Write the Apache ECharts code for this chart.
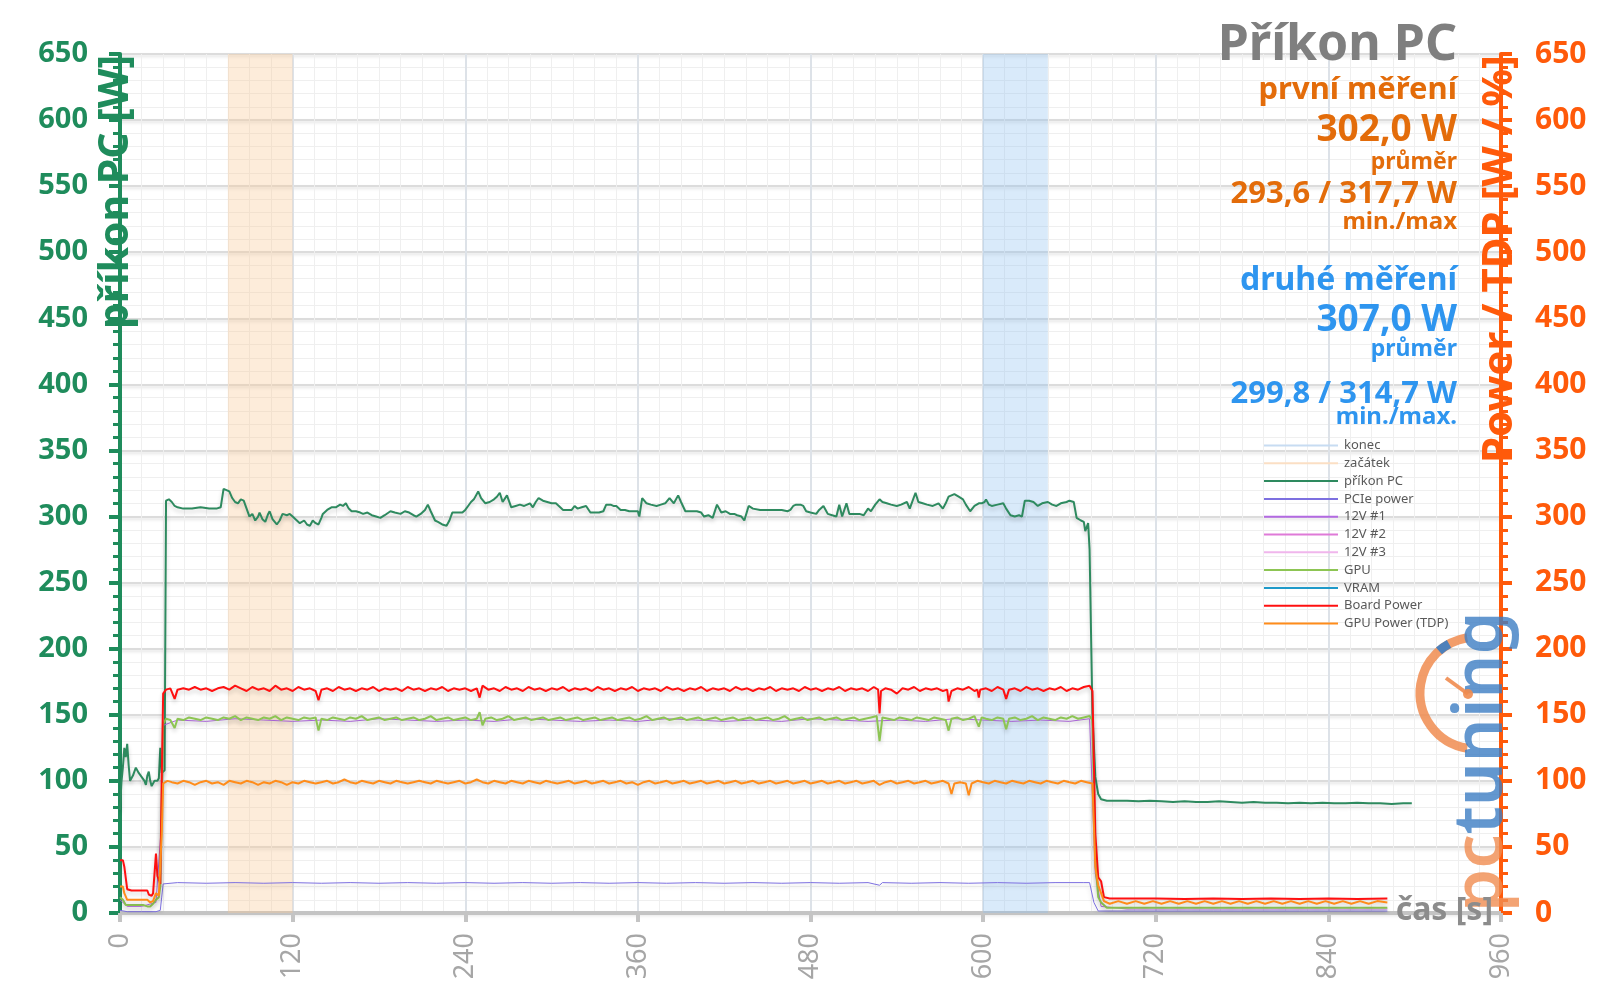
<!DOCTYPE html>
<html><head><meta charset="utf-8">
<script src="https://cdn.jsdelivr.net/npm/echarts@6/dist/echarts.min.js"></script>
<style>html,body{margin:0;padding:0;background:#fff}#c{width:1600px;height:1008px}</style>
</head><body><div id="c"></div>
<script>
// ---- data ----
var xTicks = [0,120,240,360,480,600,720,840,960];
var bandStart = [75,120];   // "začátek"
var bandEnd = [600,645];    // "konec"

var pcPower = [[0,78],[1,99],[2,110],[3,125],[4,118],[5,128],[6,112],[7,100],[9,104],[11,110],[13,106],[15,103],[17,100],[18,97],[19,104],[20,107],[21,100],[22,96],[24,100],[26,100],[27,102],[28,125],[29,106],[31,108],[32,312],[34,313],[36,311],[38,308],[40,307],[44,306],[50,306],[56,307],[62,306],[67,306],[70,307],[72,321],[74,320],[76,319],[78,314],[80,311],[82,310],[84,313],[86,312],[88,306],[90,300],[92,302],[94,297],[96,300],[97,303],[99,298],[101,296],[103,302],[104,304],[106,298],[109,294],[111,297],[113,302],[116,301],[118,302],[120,300],[122,298],[125,295],[128,297],[130,294],[132,293],[134,297],[136,295],[138,294],[140,299],[141,302],[144,305],[147,307],[150,307],[153,309],[155,308],[157,310],[159,306],[161,304],[164,304],[167,303],[169,302],[172,303],[175,301],[178,300],[181,299],[184,301],[188,304],[191,303],[195,302],[198,304],[201,303],[204,301],[206,300],[209,302],[212,305],[214,309],[216,304],[219,297],[221,296],[224,294],[227,293],[229,297],[231,303],[234,303],[238,303],[240,305],[242,308],[244,311],[246,313],[249,319],[251,314],[254,310],[257,311],[260,313],[262,315],[264,318],[266,311],[269,316],[271,310],[272,307],[275,308],[278,309],[281,308],[285,310],[287,307],[289,311],[291,314],[294,312],[297,311],[300,310],[303,310],[306,307],[308,305],[311,305],[314,305],[316,308],[318,306],[321,307],[322,306],[324,308],[327,303],[330,303],[333,303],[336,304],[338,309],[341,309],[343,308],[345,308],[348,305],[351,305],[354,304],[358,304],[360,304],[361,300],[363,314],[366,310],[369,309],[373,308],[376,309],[379,310],[382,314],[385,310],[388,316],[390,311],[393,304],[396,304],[401,304],[404,303],[406,300],[409,301],[412,299],[415,309],[418,303],[421,304],[424,302],[427,302],[429,301],[432,300],[434,297],[437,308],[440,306],[445,305],[450,305],[455,305],[460,305],[464,304],[466,305],[468,308],[470,309],[473,309],[475,308],[477,304],[480,303],[484,302],[486,305],[489,308],[491,304],[492,302],[495,301],[498,300],[500,309],[502,300],[505,310],[507,302],[510,302],[514,302],[517,301],[520,306],[522,304],[525,309],[528,313],[530,311],[533,310],[536,309],[540,308],[543,309],[547,311],[549,306],[553,318],[555,311],[558,310],[561,309],[565,308],[569,310],[572,306],[574,310],[576,315],[580,317],[583,315],[586,313],[588,309],[591,304],[594,308],[597,310],[599,310],[601,311],[602,313],[604,309],[606,308],[610,309],[614,310],[616,306],[619,301],[622,300],[625,301],[627,300],[629,312],[632,312],[635,311],[638,308],[641,310],[645,311],[648,309],[651,308],[654,310],[658,311],[660,312],[663,311],[665,299],[668,297],[670,296],[671,289],[673,295],[674,275],[676,150],[678,103],[680,90],[682,86],[686,85],[692,85],[700,85],[708,84.5],[716,85],[724,84.5],[732,84],[740,84.5],[748,84],[756,84],[764,84.5],[772,84],[780,83.5],[788,84],[796,83.5],[804,83.5],[812,83],[820,83.5],[828,83],[836,83.5],[844,83],[852,83],[860,83.5],[868,83],[876,83],[884,82.5],[892,83],[898,83]];

var pciePower = [[0,2],[5,1],[15,1],[25,1],[28,2],[29,12],[30,22],[40,23],[60,22.5],[80,23],[100,22.5],[120,23],[140,22.5],[160,23],[180,22.5],[200,23],[220,22.5],[240,23],[260,22.5],[280,23],[300,22.5],[320,23],[340,22.5],[360,23],[380,22.5],[400,23],[420,22.5],[440,23],[460,22.5],[480,23],[500,22.5],[520,23],[528,21],[530,23],[550,22.5],[570,23],[590,22.5],[610,23],[630,22.5],[650,23],[670,23],[674,23],[677,8],[680,1.5],[700,1.5],[760,1.5],[820,1.5],[881,1.5]];

var v12a = [[0,10],[5,5],[15,5],[25,8],[29,70],[30,142],[40,146],[60,145],[80,147],[100,146],[120,145],[140,146],[160,145],[180,147],[200,146],[220,145],[240,146],[260,145],[280,147],[300,146],[320,145],[340,146],[360,145],[380,147],[400,146],[420,145],[440,146],[460,145],[480,147],[500,146],[520,145],[540,146],[560,145],[580,147],[600,146],[620,145],[640,146],[660,145],[674,147],[678,30],[682,5],[700,3],[800,3],[881,3]];
var v12b = [];
var v12c = [];
var vram = [];

var gpuPower = [[0,12],[2,10],[4,6],[8,6],[12,6],[16,6],[19,5],[21,5],[23,7],[25,10],[27,12],[28,20],[29,80],[30,143],[32,147],[35,146],[38,140],[40,147],[44,146],[48,148],[52,147],[56,146],[60,148],[64,147],[68,146],[72,148],[76,147],[80,149],[84,146],[88,148],[92,147],[96,146],[100,148],[104,147],[108,149],[112,146],[116,148],[120,147],[124,146],[128,148],[132,147],[136,148],[138,138],[140,147],[144,146],[148,148],[152,147],[156,146],[160,148],[164,147],[168,149],[172,146],[176,147],[180,148],[184,146],[188,147],[192,148],[196,146],[200,147],[204,148],[208,146],[212,147],[216,149],[220,146],[224,147],[228,148],[232,146],[236,147],[240,148],[244,146],[248,147],[250,152],[252,142],[254,147],[258,148],[262,146],[266,147],[270,149],[274,146],[278,147],[282,148],[286,146],[290,147],[294,148],[298,146],[302,147],[306,148],[310,146],[314,147],[318,148],[322,146],[326,147],[330,148],[334,146],[338,147],[342,148],[346,146],[350,147],[354,148],[358,146],[362,147],[366,149],[370,146],[374,147],[378,148],[382,146],[386,147],[390,148],[394,146],[398,147],[402,148],[406,146],[410,147],[414,148],[418,146],[422,147],[426,148],[430,146],[434,147],[438,148],[442,146],[446,147],[450,148],[454,146],[458,147],[462,149],[466,146],[470,147],[474,148],[478,146],[482,147],[486,148],[490,146],[494,147],[498,148],[502,146],[506,147],[510,148],[514,146],[518,147],[522,148],[526,149],[528,130],[530,148],[534,147],[538,146],[542,148],[546,147],[550,146],[554,148],[558,147],[562,146],[566,148],[570,147],[574,146],[576,138],[578,147],[582,148],[586,146],[590,147],[594,149],[597,141],[599,148],[602,147],[606,146],[610,148],[614,147],[616,139],[618,147],[622,148],[626,146],[630,147],[634,149],[638,146],[642,148],[646,147],[650,146],[654,148],[658,147],[662,149],[666,147],[670,148],[674,149],[676,146],[678,40],[680,12],[682,8],[686,4],[700,4],[740,4],[780,4],[820,4],[860,4],[881,4]];

var boardPower = [[0,40],[2,40],[3,35],[5,18],[8,17],[12,17],[16,17],[19,17],[20,14],[22,13],[23,15],[24,30],[25,45],[26,28],[28,22],[29,100],[30,166],[32,169],[35,170],[38,162],[40,169],[44,170],[48,169],[52,171],[56,169],[60,170],[64,168],[68,170],[72,171],[76,169],[80,172],[84,170],[88,168],[92,171],[96,169],[100,170],[104,168],[108,172],[112,169],[116,170],[120,168],[124,171],[128,169],[132,170],[136,168],[138,161],[140,169],[144,170],[148,168],[152,171],[156,169],[160,170],[164,168],[168,170],[172,169],[176,171],[180,168],[184,170],[188,169],[192,170],[196,168],[200,171],[204,169],[208,170],[212,168],[216,170],[220,169],[224,171],[228,168],[232,170],[236,169],[240,170],[244,168],[248,170],[250,163],[252,172],[256,169],[260,170],[264,168],[268,171],[272,169],[276,170],[280,168],[284,171],[288,169],[292,170],[296,168],[300,170],[304,169],[308,171],[312,168],[316,170],[320,169],[324,170],[328,168],[332,171],[336,169],[340,170],[344,168],[348,170],[352,169],[356,171],[360,168],[364,170],[368,169],[372,170],[376,168],[380,171],[384,169],[388,170],[392,168],[396,170],[400,169],[404,171],[408,168],[412,170],[416,169],[420,170],[424,168],[428,171],[432,169],[436,170],[440,168],[444,170],[448,169],[452,171],[456,168],[460,170],[464,169],[468,170],[472,168],[476,171],[480,169],[484,170],[488,168],[492,170],[496,169],[500,171],[504,168],[508,170],[512,169],[516,170],[520,168],[524,171],[527,169],[528,151],[529,168],[532,170],[536,169],[540,166],[544,170],[548,169],[552,171],[556,168],[560,170],[564,169],[568,170],[572,168],[575,169],[576,160],[578,168],[582,170],[586,169],[590,171],[594,168],[596,169],[597,163],[598,169],[602,170],[606,168],[610,171],[614,169],[616,162],[618,169],[622,170],[626,168],[630,171],[634,169],[638,170],[642,168],[646,170],[650,169],[654,171],[658,168],[662,170],[666,169],[670,171],[674,172],[676,168],[678,60],[680,27],[682,24],[684,12],[688,11],[700,11],[720,11],[740,10.5],[760,11],[780,10.5],[800,11],[820,10.5],[840,11],[860,10.5],[881,11]];

var tdpPower = [[0,20],[2,20],[3,15],[5,10],[10,10],[15,10],[19,10],[21,8],[23,9],[25,15],[27,13],[28,12],[29,60],[30,98],[33,100],[36,99],[40,98],[44,100],[48,99],[52,97],[56,99],[60,100],[64,98],[68,99],[72,97],[76,100],[80,99],[84,98],[88,100],[92,99],[96,97],[100,99],[104,98],[108,100],[112,99],[116,97],[120,99],[124,98],[128,100],[132,99],[136,98],[140,99],[144,100],[148,98],[152,99],[156,101],[160,99],[164,98],[168,100],[172,99],[176,98],[180,100],[184,99],[188,98],[192,100],[196,99],[200,98],[204,99],[208,100],[212,99],[216,98],[220,100],[224,99],[228,98],[232,99],[236,100],[240,98],[244,99],[248,101],[252,99],[256,98],[260,100],[264,99],[268,98],[272,100],[276,99],[280,98],[284,100],[288,99],[292,98],[296,100],[300,99],[304,98],[308,99],[312,100],[316,98],[320,99],[324,100],[328,98],[332,99],[336,100],[340,98],[344,99],[348,100],[352,98],[356,99],[360,97],[364,99],[368,100],[372,98],[376,99],[380,100],[384,98],[388,99],[392,100],[396,98],[400,99],[404,100],[408,98],[412,99],[416,100],[420,98],[424,99],[428,100],[432,98],[436,99],[440,100],[444,98],[448,99],[452,100],[456,98],[460,99],[464,100],[468,98],[472,99],[476,100],[480,98],[484,99],[488,100],[492,98],[496,99],[500,100],[504,98],[508,99],[512,100],[516,98],[520,99],[524,100],[528,97],[532,99],[536,100],[540,98],[544,99],[548,100],[552,98],[556,99],[560,100],[564,98],[568,99],[572,100],[576,98],[578,90],[580,98],[584,99],[588,98],[590,89],[592,98],[596,100],[600,99],[604,98],[608,100],[612,99],[616,98],[620,100],[624,99],[628,98],[632,100],[636,99],[640,98],[644,100],[648,99],[652,98],[656,100],[660,99],[664,98],[668,100],[672,99],[676,98],[678,35],[680,21],[682,15],[684,9],[688,7],[694,9],[700,7],[706,9],[712,7],[718,9],[724,7],[730,9],[736,7],[742,9],[748,7],[754,9],[760,7],[766,9],[772,7],[778,9],[784,7],[790,9],[796,7],[802,9],[808,7],[814,9],[820,7],[826,9],[832,7],[838,9],[844,7],[850,9],[856,7],[862,9],[868,7],[874,9],[881,8]];

var titleText = 'Příkon PC';
var block1 = ['první měření','302,0 W','průměr','293,6 / 317,7 W','min./max'];
var block2 = ['druhé měření','307,0 W','průměr','299,8 / 314,7 W','min./max.'];

// ---- styles ----
var FONT = 'Noto Sans';
var GREEN = '#1f8c5c', ORANGE = '#ff5a0a', GREY = '#a6a6a6';
var T_OR = '#e36c0a', T_BL = '#2e95ef';

function lineSeries(name, data, color, width, extra) {
  var s = {
    name: name, type: 'line', data: data, symbol: 'none', showSymbol: false,
    lineStyle: {color: color, width: width, shadowColor: 'rgba(0,0,0,0.18)', shadowBlur: 4, shadowOffsetY: 3},
    itemStyle: {color: color}, silent: true
  };
  if (extra) for (var k in extra) s[k] = extra[k];
  return s;
}

var chart = echarts.init(document.getElementById('c'), null, {renderer: 'canvas'});

var yAxisBase = {
  type: 'value', min: 0, max: 650, interval: 50,
  minorTick: {show: true, splitNumber: 5, length: 7}
};

var option = {
  animation: false,
  backgroundColor: '#ffffff',
  grid: {left: 120, right: 99, top: 54, bottom: 95, containLabel: false},
  xAxis: {
    type: 'value', min: 0, max: 960, interval: 120,
    axisLine: {show: true, onZero: false, lineStyle: {color: '#c4c4c4', width: 4}},
    axisTick: {show: true, length: 9, lineStyle: {color: '#c4c4c4', width: 4}},
    minorTick: {show: false, splitNumber: 8},
    axisLabel: {rotate: 90, margin: 20, color: GREY, fontFamily: FONT, fontSize: 27,
      formatter: function(v){ return xTicks.indexOf(v) >= 0 ? String(v) : ''; }},
    splitLine: {show: true, lineStyle: {color: '#dde2e8', width: 2}},
    minorSplitLine: {show: true, lineStyle: {color: '#efefef', width: 1}}
  },
  yAxis: [
    Object.assign({}, yAxisBase, {
      position: 'left',
      axisLine: {show: true, lineStyle: {color: GREEN, width: 4}},
      axisTick: {show: true, length: 11, lineStyle: {color: GREEN, width: 4}},
      minorTick: {show: true, splitNumber: 5, length: 7, lineStyle: {color: GREEN, width: 3}},
      axisLabel: {margin: 32, color: GREEN, fontFamily: FONT, fontWeight: 'bold', fontSize: 29},
      splitLine: {show: true, lineStyle: {color: '#dcdcdc', width: 2, shadowColor: 'rgba(0,0,0,0.12)', shadowBlur: 3, shadowOffsetY: 2}},
      minorSplitLine: {show: true, lineStyle: {color: '#efefef', width: 1}}
    }),
    Object.assign({}, yAxisBase, {
      position: 'right',
      axisLine: {show: true, lineStyle: {color: ORANGE, width: 4}},
      axisTick: {show: true, length: 11, lineStyle: {color: ORANGE, width: 4}},
      minorTick: {show: true, splitNumber: 5, length: 7, lineStyle: {color: ORANGE, width: 3}},
      axisLabel: {margin: 34, color: ORANGE, fontFamily: FONT, fontWeight: 'bold', fontSize: 30},
      splitLine: {show: false},
      minorSplitLine: {show: false}
    })
  ],
  legend: {
    orient: 'vertical', left: 1258, top: 434,
    itemWidth: 74, itemHeight: 14, itemGap: 4.8,
    itemStyle: {color: 'rgba(0,0,0,0)', borderColor: 'rgba(0,0,0,0)', borderWidth: 0, opacity: 0},
    textStyle: {fontFamily: FONT, fontSize: 13, color: '#595959', padding: [0,0,0,1]},
    data: ['konec','začátek','příkon PC','PCIe power','12V #1','12V #2','12V #3','GPU','VRAM','Board Power','GPU Power (TDP)']
  },
  series: [
    lineSeries('konec', [], '#c7dcf2', 4, {markArea: {silent: true, itemStyle: {color: 'rgba(140,190,240,0.33)'}, data: [[{xAxis: bandEnd[0]}, {xAxis: bandEnd[1]}]]}}),
    lineSeries('začátek', [], '#fbdfc4', 4, {markArea: {silent: true, itemStyle: {color: 'rgba(250,200,150,0.35)'}, data: [[{xAxis: bandStart[0]}, {xAxis: bandStart[1]}]]}}),
    lineSeries('příkon PC', pcPower, '#2e8a5f', 2),
    lineSeries('PCIe power', pciePower, '#7d70e0', 1),
    lineSeries('12V #1', v12a, '#b36ae2', 1),
    lineSeries('12V #2', v12b, '#df7ad8', 1),
    lineSeries('12V #3', v12c, '#f0b6ec', 1),
    lineSeries('GPU', gpuPower, '#8dc553', 2),
    lineSeries('VRAM', vram, '#1f9ac9', 2.5),
    lineSeries('Board Power', boardPower, '#ff1010', 2),
    lineSeries('GPU Power (TDP)', tdpPower, '#ff8c1a', 2)
  ],
  graphic: [
    // axis names
    {type: 'text', x: 116, y: 55, rotation: Math.PI/2, z: 50,
     style: {text: 'příkon PC [W]', align: 'right', verticalAlign: 'middle', fill: GREEN, font: 'bold 41px "Noto Sans"'}},
    {type: 'text', x: 1500, y: 55, rotation: Math.PI/2, z: 50,
     style: {text: 'Power / TDP [W / %]', align: 'right', verticalAlign: 'middle', fill: ORANGE, font: 'bold 42px "Noto Sans"'}},
    {type: 'text', x: 1493, y: 911, z: 50,
     style: {text: 'čas [s]', align: 'right', verticalAlign: 'middle', fill: '#8c8c8c', font: 'bold 32px "Noto Sans"'}},
    // title block
    {type: 'text', x: 1457, y: 46, z: 50, style: {text: titleText, align: 'right', verticalAlign: 'middle', fill: '#7f7f7f', font: 'bold 50px "Noto Sans"'}},
    {type: 'text', x: 1457, y: 90, z: 50, style: {text: block1[0], align: 'right', verticalAlign: 'middle', fill: T_OR, font: 'bold 31px "Noto Sans"'}},
    {type: 'text', x: 1457, y: 130, z: 50, style: {text: block1[1], align: 'right', verticalAlign: 'middle', fill: T_OR, font: 'bold 37px "Noto Sans"'}},
    {type: 'text', x: 1457, y: 162, z: 50, style: {text: block1[2], align: 'right', verticalAlign: 'middle', fill: T_OR, font: 'bold 23px "Noto Sans"'}},
    {type: 'text', x: 1457, y: 194, z: 50, style: {text: block1[3], align: 'right', verticalAlign: 'middle', fill: T_OR, font: 'bold 31px "Noto Sans"'}},
    {type: 'text', x: 1457, y: 222, z: 50, style: {text: block1[4], align: 'right', verticalAlign: 'middle', fill: T_OR, font: 'bold 24px "Noto Sans"'}},
    {type: 'text', x: 1457, y: 281, z: 50, style: {text: block2[0], align: 'right', verticalAlign: 'middle', fill: T_BL, font: 'bold 32px "Noto Sans"'}},
    {type: 'text', x: 1457, y: 320, z: 50, style: {text: block2[1], align: 'right', verticalAlign: 'middle', fill: T_BL, font: 'bold 37px "Noto Sans"'}},
    {type: 'text', x: 1457, y: 349, z: 50, style: {text: block2[2], align: 'right', verticalAlign: 'middle', fill: T_BL, font: 'bold 23px "Noto Sans"'}},
    {type: 'text', x: 1457, y: 394, z: 50, style: {text: block2[3], align: 'right', verticalAlign: 'middle', fill: T_BL, font: 'bold 31px "Noto Sans"'}},
    {type: 'text', x: 1457, y: 417, z: 50, style: {text: block2[4], align: 'right', verticalAlign: 'middle', fill: T_BL, font: 'bold 24px "Noto Sans"'}},
    // watermark logo
    {type: 'arc', z: 40, shape: {cx: 1476, cy: 693, r: 56, startAngle: Math.PI*0.55, endAngle: Math.PI*1.45},
     style: {stroke: 'rgba(240,140,80,0.85)', lineWidth: 9, fill: null}},
    {type: 'arc', z: 41, shape: {cx: 1476, cy: 693, r: 56, startAngle: Math.PI*1.27, endAngle: Math.PI*1.34},
     style: {stroke: 'rgba(60,125,195,0.9)', lineWidth: 9, fill: null}},
    {type: 'line', z: 41, shape: {x1: 1446, y1: 678, x2: 1468, y2: 694}, style: {stroke: 'rgba(240,140,80,0.9)', lineWidth: 4}},
    {type: 'circle', z: 41, shape: {cx: 1468, cy: 694, r: 5}, style: {fill: 'rgba(240,140,80,0.9)'}},
    {type: 'text', x: 1482, y: 912, rotation: Math.PI/2, z: 40,
     style: {text: '{o|pc}{b|tuning}', align: 'left', verticalAlign: 'middle', font: '600 69px "Noto Sans"',
       rich: {o: {fill: 'rgba(240,140,80,0.8)', font: '600 69px "Noto Sans"'}, b: {fill: 'rgba(60,125,195,0.8)', font: '600 69px "Noto Sans"'}}}}
  ]
};
chart.setOption(option);
</script>
</body></html>
